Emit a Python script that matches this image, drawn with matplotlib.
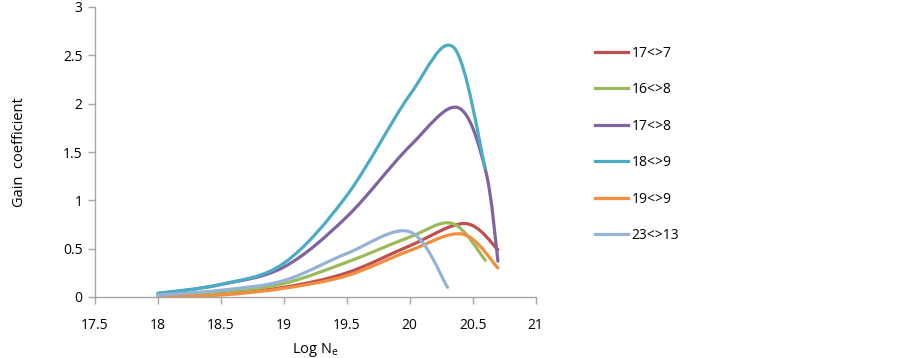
import matplotlib
matplotlib.use("Agg")
import matplotlib.pyplot as plt
from matplotlib.path import Path
from matplotlib.patches import PathPatch
from matplotlib.lines import Line2D

plt.rcParams['font.family'] = ['Open Sans', 'DejaVu Sans']

# ---- data ----
labels = ["17<>7", "16<>8", "17<>8", "18<>9", "19<>9", "23<>13"]
colors = ["#C0504D", "#9BBB59", "#8064A2", "#4BACC6", "#F38D3F", "#95B3D7"]

x_17_7 = [18, 18.5, 19, 19.5, 20, 20.44, 20.7]
y_17_7 = [0.01, 0.03, 0.10, 0.25, 0.53, 0.76, 0.49]

x_16_8 = [18, 18.5, 19, 19.5, 20, 20.34, 20.6]
y_16_8 = [0.02, 0.05, 0.14, 0.36, 0.62, 0.76, 0.38]

x_17_8 = [18, 18.5, 19, 19.5, 20, 20.38, 20.6, 20.7]
y_17_8 = [0.03, 0.13, 0.31, 0.83, 1.56, 1.96, 1.32, 0.37]

x_18_9 = [18, 18.5, 19, 19.5, 20, 20.35, 20.6]
y_18_9 = [0.04, 0.13, 0.35, 1.05, 2.09, 2.58, 1.33]

x_19_9 = [18, 18.5, 19, 19.5, 20, 20.42, 20.7]
y_19_9 = [0.0, 0.02, 0.09, 0.22, 0.48, 0.65, 0.30]

x_23_13 = [18, 18.5, 19, 19.5, 20, 20.3]
y_23_13 = [0.02, 0.07, 0.17, 0.45, 0.675, 0.10]

series_x = [x_17_7, x_16_8, x_17_8, x_18_9, x_19_9, x_23_13]
series_y = [y_17_7, y_16_8, y_17_8, y_18_9, y_19_9, y_23_13]

xticks = [17.5, 18, 18.5, 19, 19.5, 20, 20.5, 21]
xticklabels = ["17.5", "18", "18.5", "19", "19.5", "20", "20.5", "21"]
yticks = [0, 0.5, 1, 1.5, 2, 2.5, 3]
yticklabels = ["0", "0.5", "1", "1.5", "2", "2.5", "3"]


def smooth_path(xs, ys, k=6.0):
    pts = list(zip(xs, ys))
    n = len(pts)
    verts = [pts[0]]
    codes = [Path.MOVETO]
    for i in range(n - 1):
        p0 = pts[i - 1] if i > 0 else pts[i]
        p1 = pts[i]
        p2 = pts[i + 1]
        p3 = pts[i + 2] if i + 2 < n else pts[i + 1]
        c1 = (p1[0] + (p2[0] - p0[0]) / k, p1[1] + (p2[1] - p0[1]) / k)
        c2 = (p2[0] - (p3[0] - p1[0]) / k, p2[1] - (p3[1] - p1[1]) / k)
        verts += [c1, c2, p2]
        codes += [Path.CURVE4] * 3
    return Path(verts, codes)


fig = plt.figure(figsize=(9.03, 3.58), dpi=100)
ax = fig.add_axes([95 / 903, 61 / 358, 440.7 / 903, 290 / 358])

for xs, ys, c in zip(series_x, series_y, colors):
    patch = PathPatch(smooth_path(xs, ys), facecolor="none", edgecolor=c,
                      lw=2.3, capstyle="round", joinstyle="round")
    ax.add_patch(patch)

ax.set_xlim(17.5, 21)
ax.set_ylim(0, 3)
ax.set_xticks(xticks)
ax.set_xticklabels(xticklabels)
ax.set_yticks(yticks)
ax.set_yticklabels(yticklabels)

gray = "#A6A6A6"
for s in ["top", "right"]:
    ax.spines[s].set_visible(False)
for s in ["left", "bottom"]:
    ax.spines[s].set_color(gray)
    ax.spines[s].set_linewidth(1.0)
ax.tick_params(axis="both", colors=gray, labelcolor="black", labelsize=10,
               length=5, width=1.0, direction="out")
ax.tick_params(axis="x", pad=10)
ax.tick_params(axis="y", pad=4)

ax.set_xlabel("Log N$_\\mathregular{e}$", fontsize=10.5, labelpad=6)
ax.set_ylabel("Gain  coefficient", fontsize=10.5, labelpad=26)

handles = [Line2D([0], [0], color=c, lw=2.3) for c in colors]
fig.legend(handles, labels, loc="upper left",
           bbox_to_anchor=(589 / 903, 1 - 40 / 358),
           frameon=False, fontsize=10, handlelength=2.4, handletextpad=0.25,
           labelspacing=1.55, borderaxespad=0)

fig.savefig("out.png", dpi=100)
